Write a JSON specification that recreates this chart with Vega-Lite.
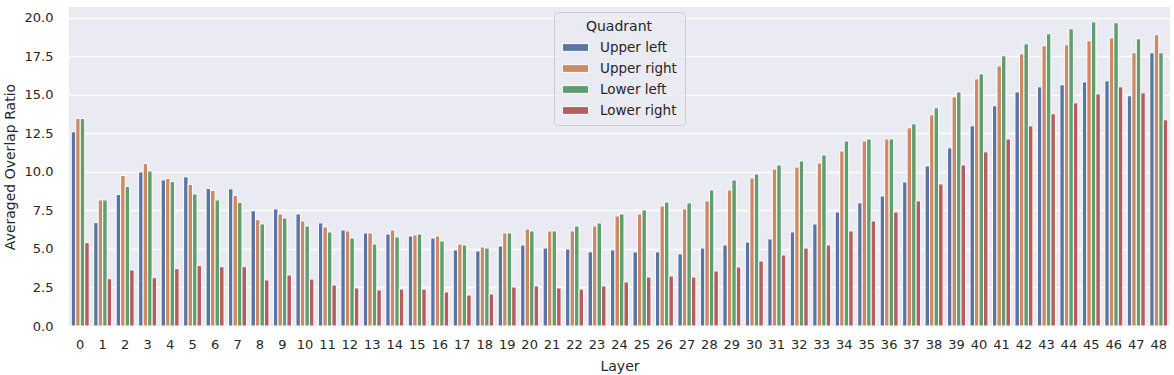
{
  "$schema": "https://vega.github.io/schema/vega-lite/v6.json",
  "width": 1101,
  "height": 319,
  "autosize": "none",
  "padding": {"left": 69, "top": 7, "right": 4, "bottom": 49},
  "background": "white",
  "config": {
    "view": {"fill": "#EAEAF2", "stroke": null},
    "font": "DejaVu Sans",
    "axis": {"domain": false, "ticks": false, "gridColor": "white", "gridWidth": 1.3, "labelColor": "#262626", "titleColor": "#262626", "labelFont": "DejaVu Sans", "titleFont": "DejaVu Sans", "labelFontSize": 13, "titleFontSize": 14, "titleFontWeight": "normal"}
  },
  "data": {"values": [
    {"layer":0,"q":"Upper left","v":12.6},{"layer":0,"q":"Upper right","v":13.46},{"layer":0,"q":"Lower left","v":13.46},{"layer":0,"q":"Lower right","v":5.41},
    {"layer":1,"q":"Upper left","v":6.71},{"layer":1,"q":"Upper right","v":8.18},{"layer":1,"q":"Lower left","v":8.18},{"layer":1,"q":"Lower right","v":3.07},
    {"layer":2,"q":"Upper left","v":8.53},{"layer":2,"q":"Upper right","v":9.76},{"layer":2,"q":"Lower left","v":9.05},{"layer":2,"q":"Lower right","v":3.64},
    {"layer":3,"q":"Upper left","v":10.0},{"layer":3,"q":"Upper right","v":10.54},{"layer":3,"q":"Lower left","v":10.06},{"layer":3,"q":"Lower right","v":3.14},
    {"layer":4,"q":"Upper left","v":9.48},{"layer":4,"q":"Upper right","v":9.57},{"layer":4,"q":"Lower left","v":9.37},{"layer":4,"q":"Lower right","v":3.72},
    {"layer":5,"q":"Upper left","v":9.68},{"layer":5,"q":"Upper right","v":9.18},{"layer":5,"q":"Lower left","v":8.57},{"layer":5,"q":"Lower right","v":3.92},
    {"layer":6,"q":"Upper left","v":8.92},{"layer":6,"q":"Upper right","v":8.79},{"layer":6,"q":"Lower left","v":8.18},{"layer":6,"q":"Lower right","v":3.85},
    {"layer":7,"q":"Upper left","v":8.9},{"layer":7,"q":"Upper right","v":8.46},{"layer":7,"q":"Lower left","v":8.01},{"layer":7,"q":"Lower right","v":3.85},
    {"layer":8,"q":"Upper left","v":7.48},{"layer":8,"q":"Upper right","v":6.9},{"layer":8,"q":"Lower left","v":6.62},{"layer":8,"q":"Lower right","v":2.99},
    {"layer":9,"q":"Upper left","v":7.6},{"layer":9,"q":"Upper right","v":7.27},{"layer":9,"q":"Lower left","v":7.01},{"layer":9,"q":"Lower right","v":3.31},
    {"layer":10,"q":"Upper left","v":7.27},{"layer":10,"q":"Upper right","v":6.82},{"layer":10,"q":"Lower left","v":6.49},{"layer":10,"q":"Lower right","v":3.05},
    {"layer":11,"q":"Upper left","v":6.69},{"layer":11,"q":"Upper right","v":6.43},{"layer":11,"q":"Lower left","v":6.1},{"layer":11,"q":"Lower right","v":2.66},
    {"layer":12,"q":"Upper left","v":6.23},{"layer":12,"q":"Upper right","v":6.17},{"layer":12,"q":"Lower left","v":5.71},{"layer":12,"q":"Lower right","v":2.47},
    {"layer":13,"q":"Upper left","v":6.04},{"layer":13,"q":"Upper right","v":6.04},{"layer":13,"q":"Lower left","v":5.32},{"layer":13,"q":"Lower right","v":2.34},
    {"layer":14,"q":"Upper left","v":5.97},{"layer":14,"q":"Upper right","v":6.23},{"layer":14,"q":"Lower left","v":5.78},{"layer":14,"q":"Lower right","v":2.4},
    {"layer":15,"q":"Upper left","v":5.84},{"layer":15,"q":"Upper right","v":5.91},{"layer":15,"q":"Lower left","v":5.97},{"layer":15,"q":"Lower right","v":2.4},
    {"layer":16,"q":"Upper left","v":5.71},{"layer":16,"q":"Upper right","v":5.84},{"layer":16,"q":"Lower left","v":5.52},{"layer":16,"q":"Lower right","v":2.21},
    {"layer":17,"q":"Upper left","v":4.94},{"layer":17,"q":"Upper right","v":5.32},{"layer":17,"q":"Lower left","v":5.26},{"layer":17,"q":"Lower right","v":2.01},
    {"layer":18,"q":"Upper left","v":4.87},{"layer":18,"q":"Upper right","v":5.13},{"layer":18,"q":"Lower left","v":5.06},{"layer":18,"q":"Lower right","v":2.08},
    {"layer":19,"q":"Upper left","v":5.19},{"layer":19,"q":"Upper right","v":6.04},{"layer":19,"q":"Lower left","v":6.04},{"layer":19,"q":"Lower right","v":2.53},
    {"layer":20,"q":"Upper left","v":5.26},{"layer":20,"q":"Upper right","v":6.3},{"layer":20,"q":"Lower left","v":6.17},{"layer":20,"q":"Lower right","v":2.6},
    {"layer":21,"q":"Upper left","v":5.06},{"layer":21,"q":"Upper right","v":6.17},{"layer":21,"q":"Lower left","v":6.17},{"layer":21,"q":"Lower right","v":2.47},
    {"layer":22,"q":"Upper left","v":5.0},{"layer":22,"q":"Upper right","v":6.17},{"layer":22,"q":"Lower left","v":6.49},{"layer":22,"q":"Lower right","v":2.4},
    {"layer":23,"q":"Upper left","v":4.81},{"layer":23,"q":"Upper right","v":6.49},{"layer":23,"q":"Lower left","v":6.69},{"layer":23,"q":"Lower right","v":2.6},
    {"layer":24,"q":"Upper left","v":4.94},{"layer":24,"q":"Upper right","v":7.14},{"layer":24,"q":"Lower left","v":7.27},{"layer":24,"q":"Lower right","v":2.86},
    {"layer":25,"q":"Upper left","v":4.81},{"layer":25,"q":"Upper right","v":7.27},{"layer":25,"q":"Lower left","v":7.53},{"layer":25,"q":"Lower right","v":3.18},
    {"layer":26,"q":"Upper left","v":4.81},{"layer":26,"q":"Upper right","v":7.79},{"layer":26,"q":"Lower left","v":8.05},{"layer":26,"q":"Lower right","v":3.25},
    {"layer":27,"q":"Upper left","v":4.68},{"layer":27,"q":"Upper right","v":7.6},{"layer":27,"q":"Lower left","v":7.99},{"layer":27,"q":"Lower right","v":3.18},
    {"layer":28,"q":"Upper left","v":5.06},{"layer":28,"q":"Upper right","v":8.12},{"layer":28,"q":"Lower left","v":8.83},{"layer":28,"q":"Lower right","v":3.57},
    {"layer":29,"q":"Upper left","v":5.26},{"layer":29,"q":"Upper right","v":8.83},{"layer":29,"q":"Lower left","v":9.48},{"layer":29,"q":"Lower right","v":3.83},
    {"layer":30,"q":"Upper left","v":5.45},{"layer":30,"q":"Upper right","v":9.61},{"layer":30,"q":"Lower left","v":9.87},{"layer":30,"q":"Lower right","v":4.22},
    {"layer":31,"q":"Upper left","v":5.65},{"layer":31,"q":"Upper right","v":10.19},{"layer":31,"q":"Lower left","v":10.45},{"layer":31,"q":"Lower right","v":4.61},
    {"layer":32,"q":"Upper left","v":6.1},{"layer":32,"q":"Upper right","v":10.32},{"layer":32,"q":"Lower left","v":10.71},{"layer":32,"q":"Lower right","v":5.06},
    {"layer":33,"q":"Upper left","v":6.62},{"layer":33,"q":"Upper right","v":10.58},{"layer":33,"q":"Lower left","v":11.1},{"layer":33,"q":"Lower right","v":5.26},
    {"layer":34,"q":"Upper left","v":7.4},{"layer":34,"q":"Upper right","v":11.36},{"layer":34,"q":"Lower left","v":12.01},{"layer":34,"q":"Lower right","v":6.17},
    {"layer":35,"q":"Upper left","v":7.99},{"layer":35,"q":"Upper right","v":12.01},{"layer":35,"q":"Lower left","v":12.14},{"layer":35,"q":"Lower right","v":6.82},
    {"layer":36,"q":"Upper left","v":8.44},{"layer":36,"q":"Upper right","v":12.14},{"layer":36,"q":"Lower left","v":12.14},{"layer":36,"q":"Lower right","v":7.4},
    {"layer":37,"q":"Upper left","v":9.35},{"layer":37,"q":"Upper right","v":12.86},{"layer":37,"q":"Lower left","v":13.12},{"layer":37,"q":"Lower right","v":8.12},
    {"layer":38,"q":"Upper left","v":10.39},{"layer":38,"q":"Upper right","v":13.7},{"layer":38,"q":"Lower left","v":14.16},{"layer":38,"q":"Lower right","v":9.22},
    {"layer":39,"q":"Upper left","v":11.56},{"layer":39,"q":"Upper right","v":14.87},{"layer":39,"q":"Lower left","v":15.19},{"layer":39,"q":"Lower right","v":10.45},
    {"layer":40,"q":"Upper left","v":12.99},{"layer":40,"q":"Upper right","v":16.04},{"layer":40,"q":"Lower left","v":16.36},{"layer":40,"q":"Lower right","v":11.3},
    {"layer":41,"q":"Upper left","v":14.29},{"layer":41,"q":"Upper right","v":16.88},{"layer":41,"q":"Lower left","v":17.53},{"layer":41,"q":"Lower right","v":12.14},
    {"layer":42,"q":"Upper left","v":15.19},{"layer":42,"q":"Upper right","v":17.66},{"layer":42,"q":"Lower left","v":18.31},{"layer":42,"q":"Lower right","v":12.99},
    {"layer":43,"q":"Upper left","v":15.52},{"layer":43,"q":"Upper right","v":18.18},{"layer":43,"q":"Lower left","v":18.96},{"layer":43,"q":"Lower right","v":13.77},
    {"layer":44,"q":"Upper left","v":15.65},{"layer":44,"q":"Upper right","v":18.25},{"layer":44,"q":"Lower left","v":19.29},{"layer":44,"q":"Lower right","v":14.48},
    {"layer":45,"q":"Upper left","v":15.84},{"layer":45,"q":"Upper right","v":18.51},{"layer":45,"q":"Lower left","v":19.74},{"layer":45,"q":"Lower right","v":15.06},
    {"layer":46,"q":"Upper left","v":15.91},{"layer":46,"q":"Upper right","v":18.7},{"layer":46,"q":"Lower left","v":19.68},{"layer":46,"q":"Lower right","v":15.52},
    {"layer":47,"q":"Upper left","v":14.94},{"layer":47,"q":"Upper right","v":17.73},{"layer":47,"q":"Lower left","v":18.64},{"layer":47,"q":"Lower right","v":15.13},
    {"layer":48,"q":"Upper left","v":17.73},{"layer":48,"q":"Upper right","v":18.9},{"layer":48,"q":"Lower left","v":17.73},{"layer":48,"q":"Lower right","v":13.38}
  ]},
  "mark": {"type": "bar", "stroke": "white", "strokeWidth": 1},
  "encoding": {
    "x": {"field": "layer", "type": "ordinal", "title": "Layer",
      "scale": {"paddingInner": 0.2, "paddingOuter": 0.1},
      "axis": {"labelAngle": 0, "grid": false, "labelPadding": 12, "titlePadding": 8}},
    "xOffset": {"field": "q", "type": "nominal", "sort": ["Upper left", "Upper right", "Lower left", "Lower right"], "scale": {"paddingInner": 0, "paddingOuter": 0}},
    "y": {"field": "v", "type": "quantitative", "title": "Averaged Overlap Ratio",
      "scale": {"domain": [0, 20.7], "nice": false, "zero": true},
      "axis": {"values": [0, 2.5, 5, 7.5, 10, 12.5, 15, 17.5, 20], "format": ".1f", "labelPadding": 16, "titlePadding": 7}},
    "color": {"field": "q", "type": "nominal", "title": "Quadrant",
      "scale": {"domain": ["Upper left", "Upper right", "Lower left", "Lower right"], "range": ["#5975A4", "#CC8963", "#5F9E6E", "#B55D60"]},
      "legend": {"orient": "none", "legendX": 485, "legendY": 5, "fillColor": "rgba(234,234,242,0.8)", "strokeColor": "#CCCCCC", "cornerRadius": 3, "padding": 8,
        "titleFontSize": 14, "titleFontWeight": "normal", "titleColor": "#262626", "titleFont": "DejaVu Sans", "titleAnchor": "middle", "titleAlign": "center", "titlePadding": 0,
        "labelFontSize": 13.5, "labelColor": "#262626", "labelFont": "DejaVu Sans", "labelOffset": 11,
        "symbolType": "M-1,-0.3L1,-0.3L1,0.3L-1,0.3Z", "symbolSize": 676, "symbolStrokeColor": "white", "symbolStrokeWidth": 1, "symbolOpacity": 1, "rowPadding": 1, "columnPadding": 10}}
  }
}
